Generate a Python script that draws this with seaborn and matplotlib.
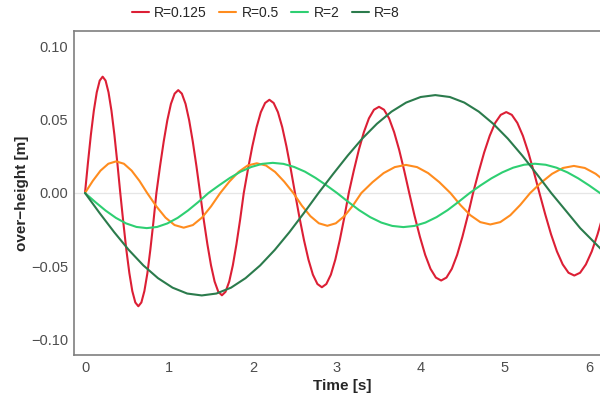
import pandas as pd
import matplotlib as mpl
mpl.use("Agg")
import matplotlib.pyplot as plt
import seaborn as sns

# values (time [s], over-height [m])
t_r0125 = [0, 0.035, 0.07, 0.105, 0.14, 0.175, 0.21, 0.245, 0.28, 0.315, 0.35, 0.385, 0.42,
           0.456, 0.492, 0.528, 0.563, 0.599, 0.635, 0.671, 0.707, 0.743, 0.778, 0.814, 0.85,
           0.893, 0.937, 0.98, 1.023, 1.067, 1.11, 1.153, 1.197, 1.24, 1.283, 1.327, 1.37,
           1.413, 1.457, 1.5, 1.543, 1.587, 1.63, 1.673, 1.717, 1.76, 1.803, 1.847, 1.89,
           1.941, 1.992, 2.043, 2.093, 2.144, 2.195, 2.246, 2.297, 2.348, 2.398, 2.449, 2.5,
           2.553, 2.607, 2.66, 2.713, 2.767, 2.82, 2.873, 2.927, 2.98, 3.033, 3.087, 3.14,
           3.2, 3.26, 3.32, 3.38, 3.44, 3.5, 3.56, 3.62, 3.68, 3.74, 3.8, 3.86,
           3.923, 3.987, 4.05, 4.113, 4.177, 4.24, 4.303, 4.367, 4.43, 4.493, 4.557, 4.62,
           4.686, 4.752, 4.818, 4.883, 4.949, 5.015, 5.081, 5.147, 5.213, 5.278, 5.344, 5.41,
           5.479, 5.548, 5.618, 5.687, 5.756, 5.825, 5.894, 5.963, 6.033, 6.102, 6.171, 6.24]
h_r0125 = [0, 0.0206, 0.0398, 0.0562, 0.0688, 0.0768, 0.0795, 0.0768, 0.0688, 0.0562, 0.0398, 0.0206, 0,
           -0.0200, -0.0387, -0.0547, -0.0670, -0.0748, -0.0774, -0.0748, -0.0670, -0.0547, -0.0387, -0.0200, 0,
           0.0182, 0.0352, 0.0497, 0.0609, 0.0679, 0.0703, 0.0679, 0.0609, 0.0497, 0.0352, 0.0182, 0,
           -0.0181, -0.0350, -0.0494, -0.0605, -0.0675, -0.0699, -0.0675, -0.0605, -0.0494, -0.0350, -0.0181, 0,
           0.0165, 0.0319, 0.0450, 0.0552, 0.0615, 0.0637, 0.0615, 0.0552, 0.0450, 0.0319, 0.0165, 0,
           -0.0167, -0.0322, -0.0455, -0.0558, -0.0622, -0.0644, -0.0622, -0.0558, -0.0455, -0.0322, -0.0167, 0,
           0.0153, 0.0295, 0.0416, 0.0510, 0.0569, 0.0589, 0.0569, 0.0510, 0.0416, 0.0295, 0.0153, 0,
           -0.0155, -0.0299, -0.0423, -0.0518, -0.0578, -0.0598, -0.0578, -0.0518, -0.0423, -0.0299, -0.0155, 0,
           0.0143, 0.0277, 0.0391, 0.0479, 0.0534, 0.0553, 0.0534, 0.0479, 0.0391, 0.0277, 0.0143, 0,
           -0.0146, -0.0282, -0.0399, -0.0488, -0.0545, -0.0564, -0.0545, -0.0488, -0.0399, -0.0282, -0.0146, 0]

t_r05 = [0, 0.093, 0.185, 0.278, 0.37, 0.463, 0.555, 0.648, 0.74,
         0.849, 0.958, 1.066, 1.175, 1.284, 1.393, 1.501, 1.61,
         1.719, 1.828, 1.936, 2.045, 2.154, 2.263, 2.371, 2.48,
         2.581, 2.683, 2.784, 2.885, 2.986, 3.088, 3.189, 3.29,
         3.423, 3.555, 3.688, 3.82, 3.953, 4.085, 4.218, 4.35,
         4.469, 4.588, 4.706, 4.825, 4.944, 5.063, 5.181, 5.3,
         5.43, 5.56, 5.69, 5.82, 5.95, 6.08, 6.21, 6.34]
h_r05 = [0, 0.0083, 0.0153, 0.0200, 0.0216, 0.0200, 0.0153, 0.0083, 0,
         -0.0091, -0.0168, -0.0219, -0.0237, -0.0219, -0.0168, -0.0091, 0,
         0.0078, 0.0144, 0.0188, 0.0203, 0.0188, 0.0144, 0.0078, 0,
         -0.0086, -0.0158, -0.0207, -0.0224, -0.0207, -0.0158, -0.0086, 0,
         0.0074, 0.0136, 0.0177, 0.0192, 0.0177, 0.0136, 0.0074, 0,
         -0.0082, -0.0152, -0.0199, -0.0215, -0.0199, -0.0152, -0.0082, 0,
         0.0071, 0.0131, 0.0171, 0.0185, 0.0171, 0.0131, 0.0071, 0]

t_r2 = [0, 0.123, 0.245, 0.368, 0.49, 0.613, 0.735, 0.858, 0.98, 1.103, 1.225, 1.348, 1.47,
        1.598, 1.725, 1.853, 1.98, 2.108, 2.235, 2.363, 2.49, 2.618, 2.745, 2.873, 3.0,
        3.132, 3.263, 3.395, 3.527, 3.658, 3.79, 3.922, 4.053, 4.185, 4.317, 4.448, 4.58,
        4.709, 4.838, 4.968, 5.097, 5.226, 5.355, 5.484, 5.613, 5.743, 5.872, 6.001, 6.13, 6.259]
h_r2 = [0, -0.0062, -0.0120, -0.0170, -0.0208, -0.0232, -0.0240, -0.0232, -0.0208, -0.0170, -0.0120, -0.0062, 0,
        0.0053, 0.0103, 0.0146, 0.0178, 0.0199, 0.0206, 0.0199, 0.0178, 0.0146, 0.0103, 0.0053, 0,
        -0.0060, -0.0117, -0.0165, -0.0202, -0.0225, -0.0233, -0.0225, -0.0202, -0.0165, -0.0117, -0.0060, 0,
        0.0052, 0.0100, 0.0141, 0.0173, 0.0193, 0.0200, 0.0193, 0.0173, 0.0141, 0.0100, 0.0052, 0, -0.0052]

t_r8 = [0, 0.174, 0.348, 0.521, 0.695, 0.869, 1.043, 1.216, 1.39,
        1.564, 1.738, 1.911, 2.085, 2.259, 2.433, 2.606, 2.78,
        2.954, 3.128, 3.301, 3.475, 3.649, 3.823, 3.996, 4.17,
        4.343, 4.515, 4.688, 4.86, 5.033, 5.205, 5.378, 5.55,
        5.723, 5.895, 6.068, 6.24]
h_r8 = [0, -0.0137, -0.0268, -0.0389, -0.0495, -0.0582, -0.0647, -0.0687, -0.0700,
        -0.0687, -0.0647, -0.0582, -0.0495, -0.0389, -0.0268, -0.0137, 0,
        0.0130, 0.0256, 0.0372, 0.0473, 0.0556, 0.0618, 0.0656, 0.0669,
        0.0656, 0.0618, 0.0556, 0.0473, 0.0372, 0.0256, 0.0130, 0,
        -0.0120, -0.0240, -0.0340, -0.0440]

labels = ["R=0.125", "R=0.5", "R=2", "R=8"]
colors = ["#dc1f35", "#ff8c1e", "#2ecf72", "#2b7b4c"]

series = [(t_r0125, h_r0125), (t_r05, h_r05), (t_r2, h_r2), (t_r8, h_r8)]
df = pd.concat(
    [pd.DataFrame({"time": t, "height": h, "R": lab}) for (t, h), lab in zip(series, labels)],
    ignore_index=True,
)

sns.set_style("white")
plt.rcParams["font.family"] = ["Liberation Sans", "DejaVu Sans"]

fig = plt.figure(figsize=(6.0, 4.03), dpi=100)
ax = fig.add_axes([74 / 600, 48 / 403, 536 / 600, 324 / 403])

ax.axhline(0, color="#e6e6e6", lw=0.9, zorder=0)
sns.lineplot(
    data=df, x="time", y="height", hue="R",
    palette=dict(zip(labels, colors)), hue_order=labels,
    sort=False, estimator=None, lw=1.5, ax=ax,
)

ax.set_xlim(-11 / 84, 525 / 84)
ax.set_ylim(-0.1107, 0.1107)
ax.set_xticks([0, 1, 2, 3, 4, 5, 6])
ax.set_yticks([-0.10, -0.05, 0.0, 0.05, 0.10])
ax.set_yticklabels(["\u22120.10", "\u22120.05", "0.00", "0.05", "0.10"])
ax.tick_params(length=0, labelsize=10.5, labelcolor="#4d4d4d", pad=4)
for s in ax.spines.values():
    s.set_color("#7f7f7f")
    s.set_linewidth(1.2)

ax.set_xlabel("Time [s]", fontsize=11, fontweight="bold", labelpad=3)
ax.set_ylabel("over\u2212height [m]", fontsize=11, fontweight="bold", labelpad=2)

sns.move_legend(
    ax, "center", bbox_to_anchor=(266 / 600, 1 - 13 / 403),
    bbox_transform=fig.transFigure, ncol=4, frameon=False, title=None,
    fontsize=10, handlelength=1.2, handletextpad=0.4, columnspacing=0.9,
)

fig.savefig("out.png", dpi=100)
